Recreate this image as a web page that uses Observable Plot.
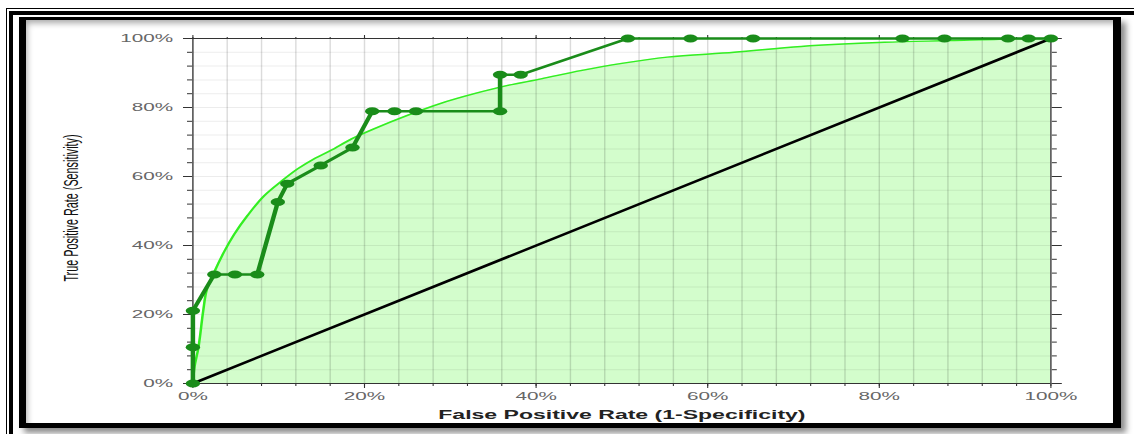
<!DOCTYPE html>
<html><head><meta charset="utf-8">
<script src="https://cdn.jsdelivr.net/npm/d3@7"></script>
<script src="https://cdn.jsdelivr.net/npm/@observablehq/plot@0.6"></script>
<style>
html,body{margin:0;padding:0;background:#fff;}
#wrap{position:relative;width:1134px;height:434px;overflow:hidden;background:#fff;}
#wrap svg{position:absolute;left:0;top:0;}
.ln{position:absolute;pointer-events:none;box-sizing:content-box;}
</style></head><body>
<div id="wrap">
 <div class="ln" style="left:6px;top:8px;width:3000px;height:3000px;border-left:1px solid #000;border-top:1px solid #000;"></div>
 <div class="ln" style="left:9px;top:11px;width:3000px;height:3000px;border-left:4px solid #000;border-top:4px solid #000;"></div>
 <div class="ln" style="left:19px;top:17px;width:1087px;height:403px;border-style:solid;border-color:#000;border-width:3px 8px 5px 7px;box-shadow:5px 5px 6px rgba(0,0,0,.45), inset 3px 5px 6px -2px rgba(0,0,0,.35);"></div>
</div>
<script>
// Empirical ROC points (False Positive Rate %, True Positive Rate %)
const empFpr = [0, 0, 0, 2.5, 4.9, 7.5, 9.9, 11.0, 14.9, 18.6, 20.9, 23.5, 26.0, 35.8, 35.8, 38.2, 50.7, 58.0, 65.3, 82.7, 87.6, 95.0, 97.4, 100];
const empTpr = [0, 10.5, 21.1, 31.6, 31.6, 31.6, 52.6, 57.9, 63.2, 68.4, 78.9, 78.9, 78.9, 78.9, 89.5, 89.5, 100, 100, 100, 100, 100, 100, 100, 100];
// Smooth fitted ROC curve
const fitFpr = [0, 0.2, 0.65, 1.2, 1.6, 2.4, 3.6, 4.8, 6.4, 8.3, 10.3, 12.2, 14.1, 16.1, 18.5, 21.1, 25.0, 28.9, 32.8, 36.7, 40.6, 45.2, 50.0, 55.3, 63.1, 70.9, 80.6, 88.3, 94.0, 100];
const fitTpr = [0, 5, 10.5, 21, 27, 31.8, 38, 43.2, 48.8, 54.4, 58.6, 62.2, 65.1, 67.6, 70.9, 73.8, 77.7, 81.2, 84.0, 86.4, 88.3, 90.7, 92.8, 94.6, 96.0, 97.7, 98.9, 99.4, 99.8, 100];
// Chance diagonal
const diagFpr = [0, 100];
const diagTpr = [0, 100];
// Ticks
const gridTicks = [0, 4, 8, 12, 16, 20, 24, 28, 32, 36, 40, 44, 48, 52, 56, 60, 64, 68, 72, 76, 80, 84, 88, 92, 96, 100];
const majorTicks = [0, 20, 40, 60, 80, 100];
const xLabel = "False Positive Rate (1-Specificity)";
const yLabel = "True Positive Rate (Sensitivity)";

const emp = empFpr.map((x, i) => ({x, y: empTpr[i]}));
const fit = fitFpr.map((x, i) => ({x, y: fitTpr[i]}));
const diag = diagFpr.map((x, i) => ({x, y: diagTpr[i]}));

const S = 1.8; // horizontal stretch of the original picture
const W = 1134 / S, H = 434;
const pct = d => d + "%";
const tickFont = {fontFamily: "Liberation Sans, Arial, sans-serif", fontSize: 11.5, fill: "#666"};

const chart = Plot.plot({
  width: W, height: H,
  marginLeft: 192 / S, marginRight: 84 / S, marginTop: 38, marginBottom: 51,
  style: {background: "transparent", fontFamily: "Liberation Sans, Arial, sans-serif"},
  x: {domain: [0, 100]},
  y: {domain: [0, 100]},
  marks: [
    Plot.areaY(fit, {x: "x", y: "y", fill: "#d3fdcc", curve: "catmull-rom"}),
    Plot.ruleX(gridTicks, {stroke: "#000", strokeOpacity: 0.14, strokeWidth: 0.8}),
    Plot.ruleY(gridTicks, {stroke: "#000", strokeOpacity: 0.075, strokeWidth: 1}),
    Plot.line(diag, {x: "x", y: "y", stroke: "#000", strokeWidth: 2.3}),
    Plot.ruleY([0, 100], {stroke: "#333", strokeWidth: 1}),
    Plot.ruleX([0, 100], {stroke: "#333", strokeWidth: 0.7}),
    // left axis
    Plot.axisY({anchor: "left", ticks: gridTicks, tickSize: 5 / S, fill: "none", stroke: "#333", label: null}),
    Plot.axisY({anchor: "left", ticks: majorTicks, tickSize: 9 / S, tickPadding: 6, tickFormat: pct, stroke: "#333", label: null, ...tickFont}),
    // right axis
    Plot.axisY({anchor: "right", ticks: gridTicks, tickSize: 5 / S, fill: "none", stroke: "#333", label: null}),
    Plot.axisY({anchor: "right", ticks: majorTicks, tickSize: 10 / S, fill: "none", stroke: "#333", label: null}),
    // top axis
    Plot.axisX({anchor: "top", ticks: gridTicks, tickSize: 2, fill: "none", stroke: "#333", strokeWidth: 0.6, label: null}),
    Plot.axisX({anchor: "top", ticks: majorTicks, tickSize: 4, fill: "none", stroke: "#333", strokeWidth: 0.6, label: null}),
    // bottom axis
    Plot.axisX({anchor: "bottom", ticks: gridTicks, tickSize: 3, fill: "none", stroke: "#333", strokeWidth: 0.6, label: null}),
    Plot.axisX({anchor: "bottom", ticks: majorTicks, tickSize: 5, tickPadding: 3, tickFormat: pct, stroke: "#333", strokeWidth: 0.6, label: null, ...tickFont}),
    // curves
    Plot.line(fit, {x: "x", y: "y", stroke: "#33ee22", strokeWidth: 1.4, curve: "catmull-rom"}),
    Plot.line(emp, {x: "x", y: "y", stroke: "#1a8c1a", strokeWidth: 2.5, strokeLinejoin: "round"}),
    Plot.dot(emp, {x: "x", y: "y", r: 4, fill: "#1a8c1a"}),
    // axis titles
    Plot.text([xLabel], {frameAnchor: "bottom", dy: 31, lineAnchor: "middle", fontWeight: "bold", fontSize: 12.8, fill: "#222", fontFamily: "Liberation Sans, Arial, sans-serif"}),
    Plot.text([yLabel], {frameAnchor: "left", dx: 71 / S - 192 / S, dy: -3, rotate: -90, textAnchor: "middle", lineAnchor: "middle", fontSize: 10.8, fill: "#111", fontFamily: "Liberation Sans, Arial, sans-serif"})
  ]
});

chart.setAttribute("width", 1134);
chart.setAttribute("height", 434);
chart.setAttribute("preserveAspectRatio", "none");
chart.style.width = "1134px";
chart.style.height = "434px";
chart.style.maxWidth = "none";
const wrap = document.getElementById("wrap");
wrap.insertBefore(chart, wrap.firstChild);
</script>
</body></html>
